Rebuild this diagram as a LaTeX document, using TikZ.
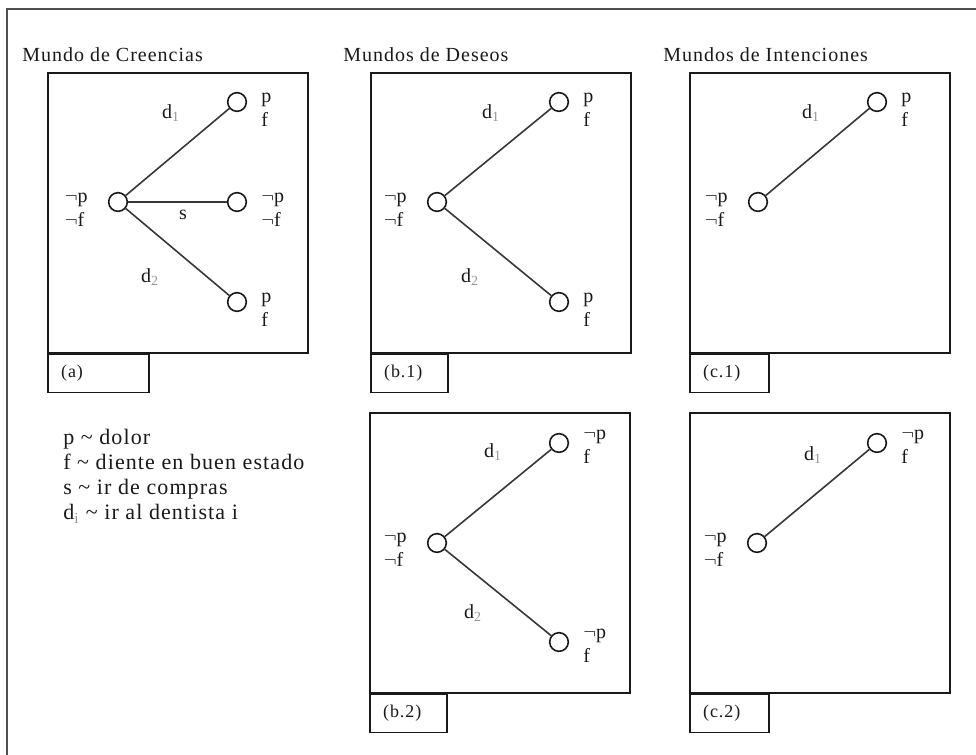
\documentclass[tikz,border=0pt]{standalone}
\usepackage{fontspec}
\setmainfont[LetterSpace=5]{Liberation Serif}
\usetikzlibrary{positioning}
\definecolor{WorldInk}{RGB}{25,25,25}
\definecolor{WorldLine}{RGB}{55,55,55}
\definecolor{WorldFrame}{RGB}{80,80,80}
\definecolor{WorldSub}{RGB}{150,150,150}
\tikzset{
  w/frame/.style={draw=WorldFrame, line width=2pt},
  w/panel/.style={
    draw=WorldInk,
    line width=1.3pt,
    anchor=north west,
    minimum width=195pt,
    minimum height=210pt,
    inner sep=0pt
  },
  w/tag/.style={
    draw=WorldInk,
    line width=1.3pt,
    anchor=north west,
    minimum height=28.5pt,
    inner xsep=10pt,
    align=left,
    text=WorldInk,
    font={\fontsize{13.5}{15}\selectfont}
  },
  w/state/.style={circle, draw=WorldInk, line width=1.2pt, minimum size=14pt, inner sep=0pt},
  w/side/.style={inner sep=0pt, align=left, text=WorldInk, font={\fontsize{15}{18}\selectfont}},
  w/link/.style={draw=WorldLine, line width=1.2pt},
  w/shop/.style={draw=WorldLine, line width=2.2pt},
  w/act/.style={text=WorldInk, font={\fontsize{15}{16}\selectfont}},
  w/title/.style={anchor=base west, inner sep=0pt, text=WorldInk, font={\fontsize{15}{16}\selectfont}},
  w/legend/.style={anchor=base west, inner sep=0pt, align=left, text=WorldInk, font={\fontsize{16.5}{18.75}\selectfont}}
}
\newcommand{\wsub}[1]{\textsubscript{\textcolor{WorldSub}{#1}}}

\begin{document}
\begin{tikzpicture}[x=0.75pt,y=-0.75pt]
  \useasboundingbox (0,0) rectangle (976,755);
  \draw[w/frame] (976,9) -- (7,9) -- (7,755);

  % titles
  \node[w/title] (tcre) at (22,62) {Mundo de Creencias};
  \node[w/title] (tdes) at (343,62) {Mundos de Deseos};
  \node[w/title] (tint) at (663,62) {Mundos de Intenciones};

  % panels
  \node[w/panel] (boxa) at (47,72) {};
  \node[w/panel] (boxb1) at (370,72) {};
  \node[w/panel] (boxc1) at (689,72) {};
  \node[w/panel] (boxb2) at (369,412) {};
  \node[w/panel] (boxc2) at (689,412) {};
  \node[w/tag, text width=55.75pt] (taga) at (boxa.south west) {(a)};
  \node[w/tag, text width=37.75pt] (tagb1) at (boxb1.south west) {(b.1)};
  \node[w/tag, text width=39.25pt] (tagc1) at (boxc1.south west) {(c.1)};
  \node[w/tag, text width=37.75pt] (tagb2) at (boxb2.south west) {(b.2)};
  \node[w/tag, text width=39.25pt] (tagc2) at (boxc2.south west) {(c.2)};

  % (a) creencias
  \node[w/state, label={[w/side, label distance=15pt, yshift=-6pt]left:{$\neg$p\\$\neg$f}}] (a0) at (118,202) {};
  \node[w/state, label={[w/side, label distance=10.5pt, yshift=-6pt]right:{p\\f}}] (a1) at (237,102) {};
  \node[w/state, label={[w/side, label distance=10.5pt, yshift=-6pt]right:{$\neg$p\\$\neg$f}}] (as) at (237,202) {};
  \node[w/state, label={[w/side, label distance=10.5pt, yshift=-6pt]right:{p\\f}}] (a2) at (237,302) {};
  \draw[w/link] (a0) -- (a1);
  \draw[w/shop] (a0) -- (as);
  \draw[w/link] (a0) -- (a2);
  \node[w/act] (ad1) at (171,113) {d\wsub{1}};
  \node[w/act] (ad2) at (150,277) {d\wsub{2}};
  \node[w/act] (ass) at (183,215) {s};

  % (b.1) deseos
  \node[w/state, label={[w/side, label distance=15pt, yshift=-6pt]left:{$\neg$p\\$\neg$f}}] (b10) at (437,202) {};
  \node[w/state, label={[w/side, label distance=10.5pt, yshift=-6pt]right:{p\\f}}] (b11) at (559,102) {};
  \node[w/state, label={[w/side, label distance=10.5pt, yshift=-6pt]right:{p\\f}}] (b12) at (559,302) {};
  \draw[w/link] (b10) -- (b11);
  \draw[w/link] (b10) -- (b12);
  \node[w/act] (b1d1) at (491,113) {d\wsub{1}};
  \node[w/act] (b1d2) at (470,277) {d\wsub{2}};

  % (c.1) intenciones
  \node[w/state, label={[w/side, label distance=15pt, yshift=-6pt]left:{$\neg$p\\$\neg$f}}] (c10) at (758,202) {};
  \node[w/state, label={[w/side, label distance=10.5pt, yshift=-6pt]right:{p\\f}}] (c11) at (877,102) {};
  \draw[w/link] (c10) -- (c11);
  \node[w/act] (c1d1) at (811,113) {d\wsub{1}};

  % (b.2) deseos
  \node[w/state, label={[w/side, label distance=15pt, yshift=-5pt]left:{$\neg$p\\$\neg$f}}] (b20) at (437,543) {};
  \node[w/state, label={[w/side, label distance=10.5pt, yshift=-3pt]right:{$\neg$p\\f}}] (b21) at (559,443) {};
  \node[w/state, label={[w/side, label distance=10.5pt, yshift=-3pt]right:{$\neg$p\\f}}] (b22) at (559,642) {};
  \draw[w/link] (b20) -- (b21);
  \draw[w/link] (b20) -- (b22);
  \node[w/act] (b2d1) at (493,452) {d\wsub{1}};
  \node[w/act] (b2d2) at (473,613) {d\wsub{2}};

  % (c.2) intenciones
  \node[w/state, label={[w/side, label distance=15pt, yshift=-5pt]left:{$\neg$p\\$\neg$f}}] (c20) at (757,543) {};
  \node[w/state, label={[w/side, label distance=10.5pt, yshift=-3pt]right:{$\neg$p\\f}}] (c21) at (877,443) {};
  \draw[w/link] (c20) -- (c21);
  \node[w/act] (c2d1) at (813,455) {d\wsub{1}};

  % legend
  \node[w/legend] (key) at (63,520) {p \textasciitilde{} dolor\\f \textasciitilde{} diente en buen estado\\s \textasciitilde{} ir de compras\\d\wsub{i} \textasciitilde{} ir al dentista i};
\end{tikzpicture}
\end{document}
